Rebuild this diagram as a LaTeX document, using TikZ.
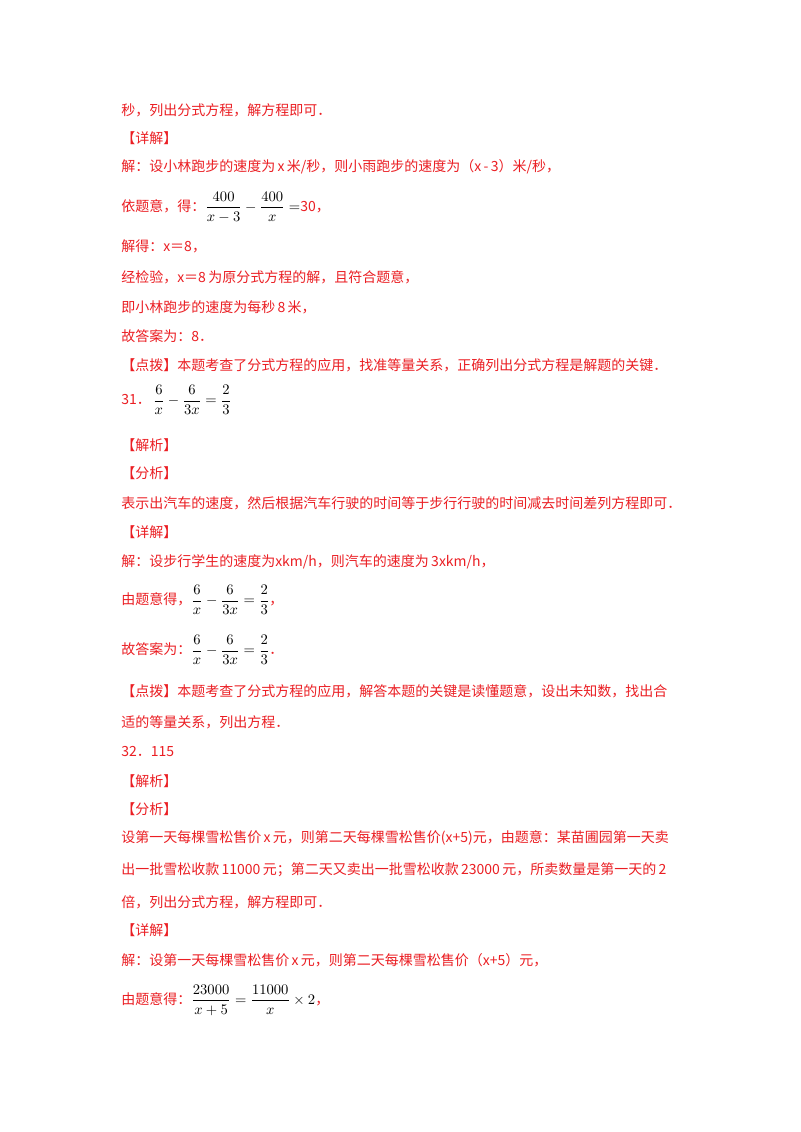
\documentclass[tikz,border=0pt]{standalone}
\usepackage{amsmath}
\usepackage{fontspec}
\setmainfont{Liberation Serif}
\newfontfamily\cjk{Noto Sans CJK SC}
\definecolor{rd}{RGB}{235,30,35}
\newcommand{\blk}[1]{\textcolor{black}{#1}}
\begin{document}
\begin{tikzpicture}[x=0.75pt,y=-0.75pt,
  red/.style={anchor=west,inner sep=0pt,text=rd,font=\cjk\fontsize{10.5pt}{12pt}\selectfont}]
\useasboundingbox (0,0) rectangle (800,1132);
\fill[white] (0,0) rectangle (800,1132);
\node[red] (l1) at (121,110) {秒，列出分式方程，解方程即可．};
\node[red] (l2) at (121,138) {【详解】};
\node[red] (l3) at (121,167) {解：设小林跑步的速度为\,\textit{x}\,米/秒，则小雨跑步的速度为（\textit{x}\,-\,3）米/秒，};
\node[red] (l4) at (121,207) {依题意，得：\blk{$\dfrac{400}{x-3}-\dfrac{400}{x}=$}30，};
\node[red] (l5) at (121,246) {解得：\textit{x}＝8，};
\node[red] (l6) at (121,277) {经检验，\textit{x}＝8\,为原分式方程的解，且符合题意，};
\node[red] (l7) at (121,307) {即小林跑步的速度为每秒\,8\,米，};
\node[red] (l8) at (121,336) {故答案为：8．};
\node[red] (l9) at (121,365) {【点拨】本题考查了分式方程的应用，找准等量关系，正确列出分式方程是解题的关键．};
\node[red] (l10) at (121,400) {31．\,\blk{$\dfrac{6}{x}-\dfrac{6}{3x}=\dfrac{2}{3}$}};
\node[red] (l11) at (121,445) {【解析】};
\node[red] (l12) at (121,473) {【分析】};
\node[red] (l13) at (121,503) {表示出汽车的速度，然后根据汽车行驶的时间等于步行行驶的时间减去时间差列方程即可．};
\node[red] (l14) at (121,532) {【详解】};
\node[red] (l15) at (121,562) {解：设步行学生的速度为\textit{x}km/h，则汽车的速度为\,3\textit{x}km/h，};
\node[red] (l16) at (121,600) {由题意得，\blk{$\dfrac{6}{x}-\dfrac{6}{3x}=\dfrac{2}{3}$}，};
\node[red] (l17) at (121,650) {故答案为：\blk{$\dfrac{6}{x}-\dfrac{6}{3x}=\dfrac{2}{3}$}．};
\node[red] (l18) at (121,691) {【点拨】本题考查了分式方程的应用，解答本题的关键是读懂题意，设出未知数，找出合};
\node[red] (l19) at (121,722) {适的等量关系，列出方程．};
\node[red] (l20) at (121,751) {32．115};
\node[red] (l21) at (121,781) {【解析】};
\node[red] (l22) at (121,809) {【分析】};
\node[red] (l23) at (121,838) {设第一天每棵雪松售价\,\textit{x}\,元，则第二天每棵雪松售价(\textit{x}+5)元，由题意：某苗圃园第一天卖};
\node[red] (l24) at (121,870) {出一批雪松收款\,11000\,元；第二天又卖出一批雪松收款\,23000\,元，所卖数量是第一天的\,2};
\node[red] (l25) at (121,902) {倍，列出分式方程，解方程即可．};
\node[red] (l26) at (121,930) {【详解】};
\node[red] (l27) at (121,960) {解：设第一天每棵雪松售价\,\textit{x}\,元，则第二天每棵雪松售价（\textit{x}+5）元，};
\node[red] (l28) at (121,1000) {由题意得：\blk{$\dfrac{23000}{x+5}=\dfrac{11000}{x}\times2$}，};
\end{tikzpicture}
\end{document}
